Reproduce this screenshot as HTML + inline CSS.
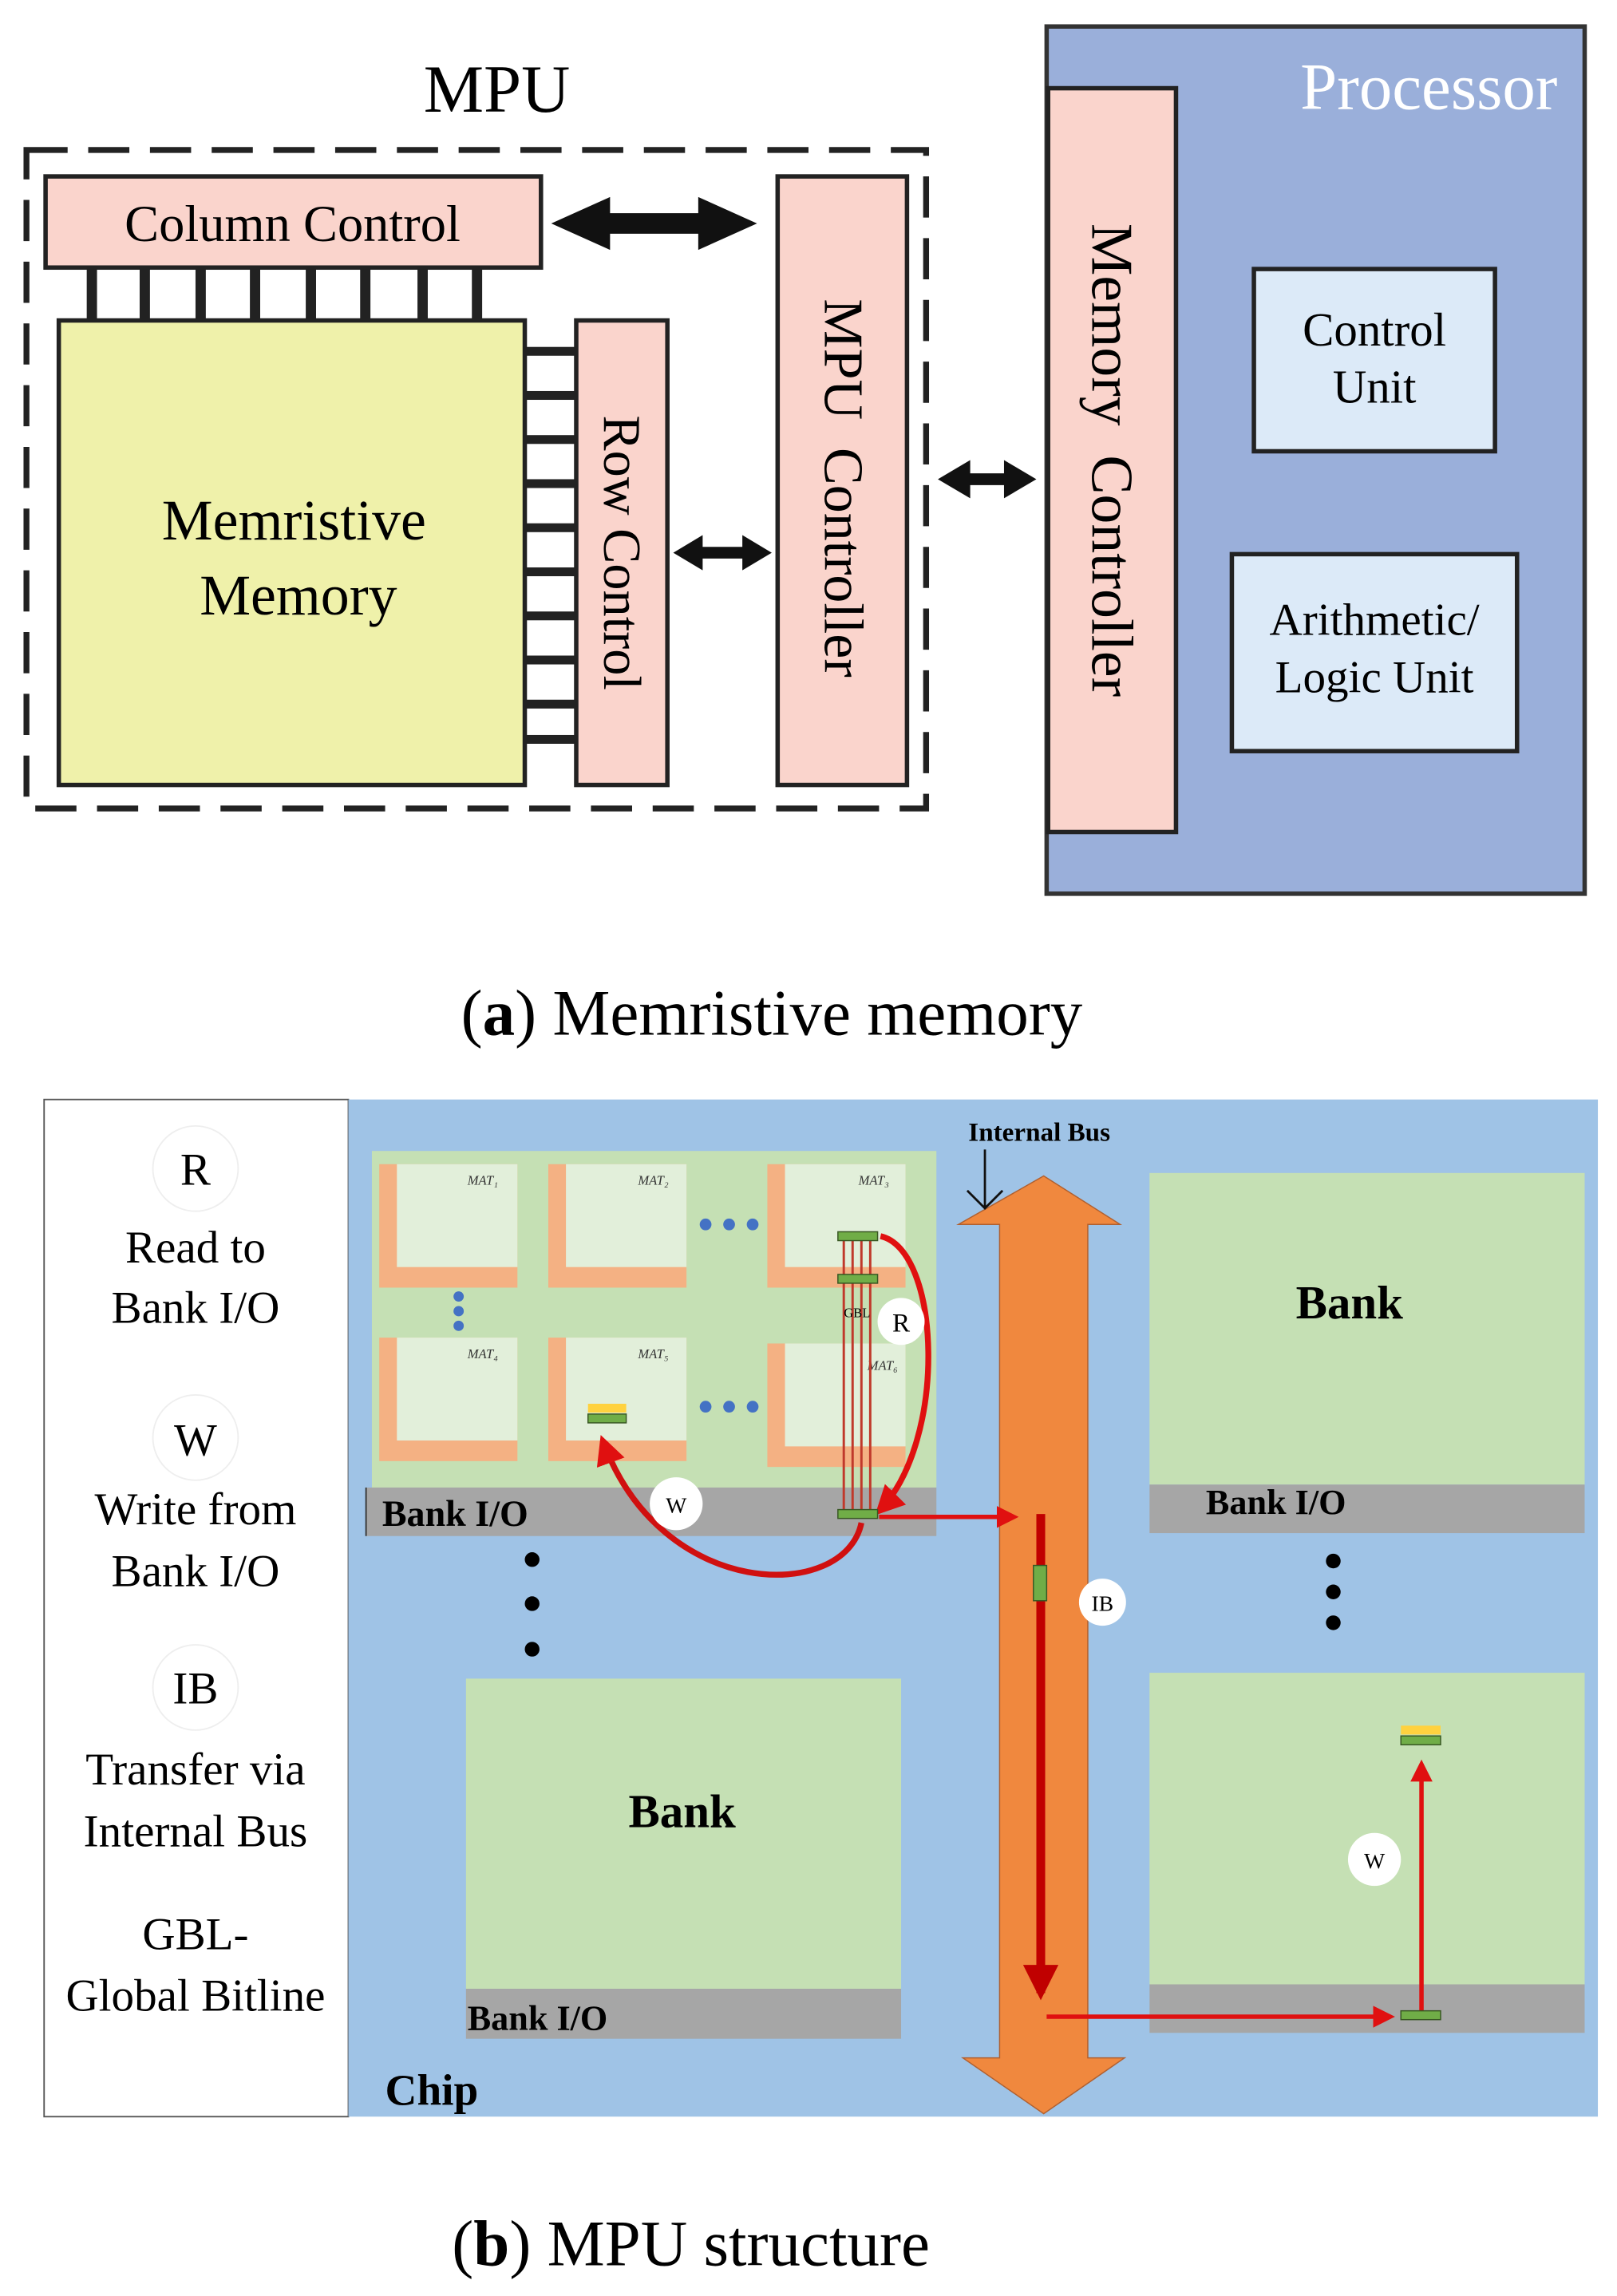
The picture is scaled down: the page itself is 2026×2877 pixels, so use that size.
<!DOCTYPE html>
<html><head><meta charset="utf-8"><style>
html,body{margin:0;padding:0;background:#fff;}
svg{display:block;}
text{font-family:"Liberation Serif",serif;}
</style></head><body>
<svg width="2026" height="2877" viewBox="0 0 1100 1562" xmlns="http://www.w3.org/2000/svg">
<defs>
<marker id="rh" viewBox="0 0 10 10" refX="8" refY="5" markerWidth="5" markerHeight="5" orient="auto-start-reverse"><path d="M0,0 L10,5 L0,10 z" fill="#e01010"/></marker>
<marker id="rd" viewBox="0 0 10 10" refX="8" refY="5" markerWidth="4" markerHeight="4" orient="auto"><path d="M0,0 L10,5 L0,10 z" fill="#c00000"/></marker>
</defs>
<rect width="1100" height="1562" fill="#fff"/>
<!-- (a) -->
<text x="338" y="76" font-size="46" text-anchor="middle">MPU</text>
<rect x="18" y="102" width="612" height="448" fill="none" stroke="#222" stroke-width="4" stroke-dasharray="28 14"/>
<g fill="#222">
<rect x="59" y="182" width="7" height="36"/><rect x="95" y="182" width="7" height="36"/><rect x="133" y="182" width="7" height="36"/><rect x="170" y="182" width="7" height="36"/><rect x="208" y="182" width="7" height="36"/><rect x="245" y="182" width="7" height="36"/><rect x="284" y="182" width="7" height="36"/><rect x="321" y="182" width="7" height="36"/>
<rect x="357" y="236" width="35" height="6"/><rect x="357" y="266" width="35" height="6"/><rect x="357" y="296" width="35" height="6"/><rect x="357" y="326" width="35" height="6"/><rect x="357" y="356" width="35" height="6"/><rect x="357" y="386" width="35" height="6"/><rect x="357" y="416" width="35" height="6"/><rect x="357" y="446" width="35" height="6"/><rect x="357" y="476" width="35" height="6"/><rect x="357" y="500" width="35" height="6"/>
</g>
<rect x="31" y="120" width="337" height="62" fill="#fad4cc" stroke="#222" stroke-width="3"/>
<text x="199" y="164" font-size="35" text-anchor="middle">Column Control</text>
<rect x="40" y="218" width="317" height="316" fill="#eff1aa" stroke="#222" stroke-width="3"/>
<text x="200" y="367" font-size="39" text-anchor="middle">Memristive</text>
<text x="203" y="418" font-size="39" text-anchor="middle">Memory</text>
<rect x="392" y="218" width="62" height="316" fill="#fad4cc" stroke="#222" stroke-width="3"/>
<text transform="translate(411,376) rotate(90)" font-size="36" text-anchor="middle">Row Control</text>
<rect x="529" y="120" width="88" height="414" fill="#fad4cc" stroke="#222" stroke-width="3"/>
<text transform="translate(561,332) rotate(90)" font-size="38" text-anchor="middle" xml:space="preserve">MPU  Controller</text>
<path d="M375,152 L415,134 L415,145 L475,145 L475,134 L515,152 L475,170 L475,159 L415,159 L415,170 Z" fill="#111"/>
<path d="M458,376 L478,364 L478,372 L505,372 L505,364 L525,376 L505,388 L505,380 L478,380 L478,388 Z" fill="#111"/>
<path d="M638,326 L660,313 L660,322 L683,322 L683,313 L705,326 L683,339 L683,330 L660,330 L660,339 Z" fill="#111"/>
<rect x="712" y="18" width="366" height="590" fill="#9aafda" stroke="#333" stroke-width="3"/>
<text x="972" y="74" font-size="45" fill="#fff" text-anchor="middle">Processor</text>
<rect x="713" y="60" width="87" height="506" fill="#fad4cc" stroke="#222" stroke-width="3"/>
<text transform="translate(743,313) rotate(90)" font-size="40" text-anchor="middle" xml:space="preserve">Memory  Controller</text>
<rect x="853" y="183" width="164" height="124" fill="#dceaf8" stroke="#222" stroke-width="3"/>
<text x="935" y="235" font-size="32" text-anchor="middle">Control</text>
<text x="935" y="274" font-size="32" text-anchor="middle">Unit</text>
<rect x="838" y="377" width="194" height="134" fill="#dceaf8" stroke="#222" stroke-width="3"/>
<text x="935" y="432" font-size="31" text-anchor="middle">Arithmetic/</text>
<text x="935" y="471" font-size="31" text-anchor="middle">Logic Unit</text>
<text x="525" y="704" font-size="44" text-anchor="middle">(<tspan font-weight="bold">a</tspan>) Memristive memory</text>
<!-- (b) -->
<rect x="30" y="748" width="207" height="692" fill="#fff" stroke="#555" stroke-width="1"/>
<rect x="237" y="748" width="850" height="692" fill="#9fc3e6"/>
<g font-size="31" text-anchor="middle">
<circle cx="133" cy="795" r="29" fill="#fff" stroke="#eee"/><text x="133" y="806">R</text>
<text x="133" y="859">Read to</text><text x="133" y="900">Bank I/O</text>
<circle cx="133" cy="978" r="29" fill="#fff" stroke="#eee"/><text x="133" y="990">W</text>
<text x="133" y="1037">Write from</text><text x="133" y="1079">Bank I/O</text>
<circle cx="133" cy="1148" r="29" fill="#fff" stroke="#eee"/><text x="133" y="1159">IB</text>
<text x="133" y="1214">Transfer via</text><text x="133" y="1256">Internal Bus</text>
<text x="133" y="1326">GBL-</text><text x="133" y="1368">Global Bitline</text>
</g>
<rect x="253" y="783" width="384" height="229" fill="#c5e0b4"/>
<rect x="249" y="1012" width="388" height="33" fill="#a6a6a6"/>
<line x1="249" y1="1012" x2="249" y2="1045" stroke="#333"/>
<text x="260" y="1038" font-size="25" font-weight="bold">Bank I/O</text>
<g>
<g id="mat">
<rect x="258" y="792" width="94" height="84" fill="#f4b183"/>
<rect x="270" y="792" width="82" height="70" fill="#e2efda"/>
</g>
<use href="#mat" x="115"/><use href="#mat" x="264"/>
<use href="#mat" y="118"/><use href="#mat" x="115" y="118"/><use href="#mat" x="264" y="122"/>
</g>
<g font-size="9" font-style="italic" fill="#333"><text x="318" y="806">MAT₁</text><text x="434" y="806">MAT₂</text><text x="584" y="806">MAT₃</text><text x="318" y="924">MAT₄</text><text x="434" y="924">MAT₅</text><text x="590" y="932">MAT₆</text></g>
<g fill="#4472c4"><circle cx="480" cy="833" r="4"/><circle cx="496" cy="833" r="4"/><circle cx="512" cy="833" r="4"/><circle cx="480" cy="957" r="4"/><circle cx="496" cy="957" r="4"/><circle cx="512" cy="957" r="4"/><circle cx="312" cy="882" r="3.5"/><circle cx="312" cy="892" r="3.5"/><circle cx="312" cy="902" r="3.5"/></g>
<g stroke="#c0392b" stroke-width="1.6"><line x1="574" y1="840" x2="574" y2="1032"/><line x1="580" y1="840" x2="580" y2="1032"/><line x1="586" y1="840" x2="586" y2="1032"/><line x1="592" y1="840" x2="592" y2="1032"/></g>
<text x="574" y="896" font-size="9">GBL</text>
<!-- internal bus -->
<path d="M710,800 L762,833 L740,833 L740,1400 L765,1400 L710,1438 L655,1400 L680,1400 L680,833 L652,833 Z" fill="#f0883e" stroke="#b06030" stroke-width="0.8"/>
<text x="707" y="776" font-size="18" font-weight="bold" text-anchor="middle">Internal Bus</text>
<path d="M670,782 L670,822 M658,810 L670,822 L682,810" stroke="#111" stroke-width="1.5" fill="none"/>
<!-- right banks -->
<rect x="782" y="798" width="296" height="212" fill="#c5e0b4"/>
<rect x="782" y="1010" width="296" height="33" fill="#a6a6a6"/>
<text x="918" y="897" font-size="32" font-weight="bold" text-anchor="middle">Bank</text>
<text x="868" y="1030" font-size="24" font-weight="bold" text-anchor="middle">Bank I/O</text>
<g fill="#000"><circle cx="907" cy="1062" r="5"/><circle cx="907" cy="1083" r="5"/><circle cx="907" cy="1104" r="5"/><circle cx="362" cy="1061" r="5"/><circle cx="362" cy="1091" r="5"/><circle cx="362" cy="1122" r="5"/></g>
<rect x="782" y="1138" width="296" height="212" fill="#c5e0b4"/>
<rect x="782" y="1350" width="296" height="33" fill="#a6a6a6"/>
<rect x="317" y="1142" width="296" height="211" fill="#c5e0b4"/>
<rect x="317" y="1353" width="296" height="34" fill="#a6a6a6"/>
<text x="464" y="1243" font-size="32" font-weight="bold" text-anchor="middle">Bank</text>
<text x="318" y="1381" font-size="24" font-weight="bold">Bank I/O</text>
<text x="262" y="1432" font-size="30" font-weight="bold">Chip</text>
<!-- arrows & bits on top -->
<path d="M599,841 C640,850 645,980 598,1028" fill="none" stroke="#e01010" stroke-width="4" marker-end="url(#rh)"/>
<path d="M586,1036 C575,1090 450,1090 410,980" fill="none" stroke="#d01010" stroke-width="4" marker-end="url(#rh)"/>
<line x1="598" y1="1032" x2="690" y2="1032" stroke="#e01010" stroke-width="3" marker-end="url(#rh)"/>
<line x1="708" y1="1030" x2="708" y2="1356" stroke="#c00000" stroke-width="6" marker-end="url(#rd)"/>
<line x1="712" y1="1372" x2="946" y2="1372" stroke="#e01010" stroke-width="3" marker-end="url(#rh)"/>
<line x1="967" y1="1368" x2="967" y2="1200" stroke="#e01010" stroke-width="3" marker-end="url(#rh)"/>
<g fill="#70ad47" stroke="#385723" stroke-width="0.8"><rect x="570" y="838" width="27" height="6"/><rect x="570" y="867" width="27" height="6"/><rect x="570" y="1027" width="27" height="6"/><rect x="703" y="1065" width="9" height="24"/><rect x="953" y="1368" width="27" height="6"/><rect x="400" y="962" width="26" height="6"/><rect x="953" y="1181" width="27" height="6"/></g>
<rect x="400" y="955" width="26" height="6" fill="#ffd23f"/><rect x="953" y="1174" width="27" height="6" fill="#ffd23f"/>
<circle cx="613" cy="899" r="16" fill="#fff"/><text x="613" y="906" font-size="18" text-anchor="middle">R</text>
<circle cx="460" cy="1023" r="18" fill="#fff"/><text x="460" y="1029" font-size="15" text-anchor="middle">W</text>
<circle cx="750" cy="1090" r="16" fill="#fff"/><text x="750" y="1096" font-size="15" text-anchor="middle">IB</text>
<circle cx="935" cy="1265" r="18" fill="#fff"/><text x="935" y="1271" font-size="15" text-anchor="middle">W</text>
<text x="470" y="1541" font-size="44" text-anchor="middle">(<tspan font-weight="bold">b</tspan>) MPU structure</text>
</svg>
</body></html>
